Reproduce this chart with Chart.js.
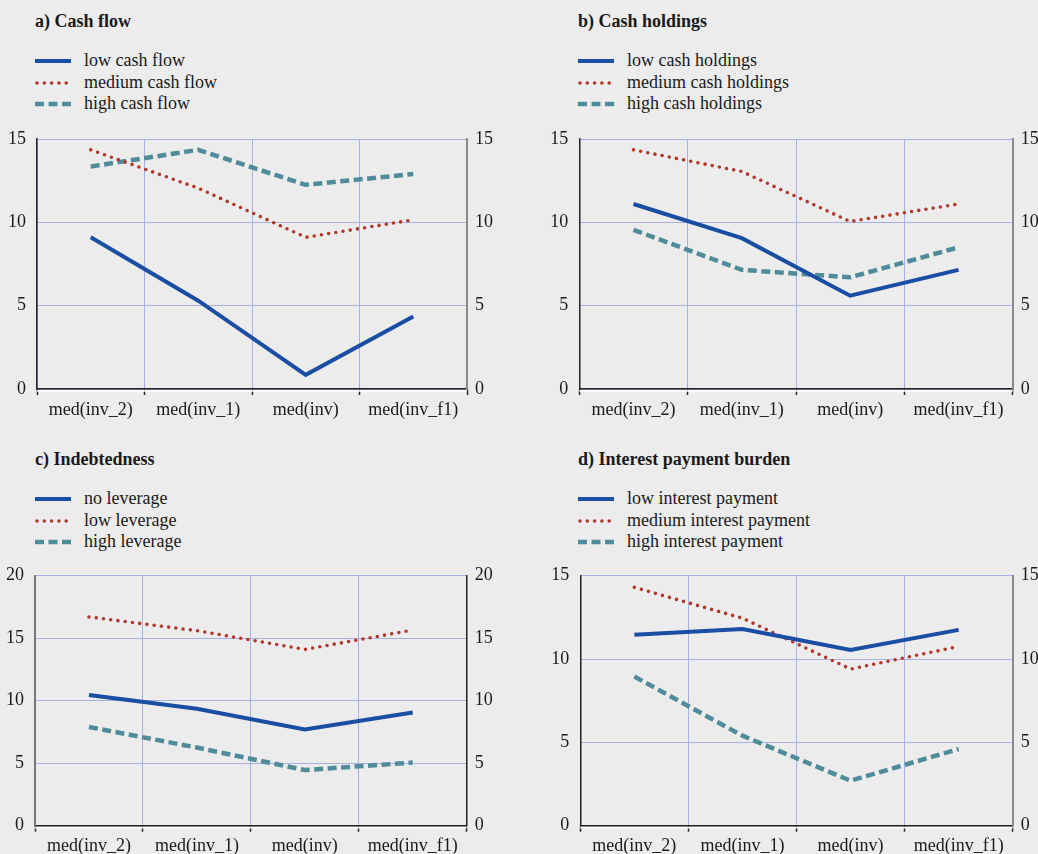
<!DOCTYPE html>
<html>
<head>
<meta charset="utf-8">
<script src="https://cdn.jsdelivr.net/npm/chart.js@4.4.1/dist/chart.umd.min.js"></script>
<style>
  html, body { margin:0; padding:0; background:#ececec; }
  body { width:1038px; height:854px; position:relative; overflow:hidden; font-family:"Liberation Serif","Times New Roman",serif; color:#1a1a1a; }
  .title { position:absolute; font-weight:bold; font-size:18px; line-height:20px; white-space:nowrap; }
  .leg { position:absolute; font-size:18px; line-height:21.5px; white-space:nowrap; }
  .leg div { position:relative; height:21.5px; padding-left:49px; }
  .leg svg { position:absolute; left:0; top:6px; }
  canvas { position:absolute; }
</style>
</head>
<body>
<div class="title" style="left:35px;top:11px">a) Cash flow</div>
<div class="title" style="left:578px;top:11px">b) Cash holdings</div>
<div class="title" style="left:35px;top:449px">c) Indebtedness</div>
<div class="title" style="left:578px;top:449px">d) Interest payment burden</div>

<div class="leg" id="legA" style="left:35px;top:50px"></div>
<div class="leg" id="legB" style="left:578px;top:50px"></div>
<div class="leg" id="legC" style="left:35px;top:488px"></div>
<div class="leg" id="legD" style="left:578px;top:488px"></div>

<canvas id="cA" width="519" height="305" style="left:0;top:125px"></canvas>
<canvas id="cB" width="519" height="305" style="left:519px;top:125px"></canvas>
<canvas id="cC" width="519" height="292" style="left:0;top:562px"></canvas>
<canvas id="cD" width="519" height="292" style="left:519px;top:562px"></canvas>

<script>
// ---- data ----
const categories = ["med(inv_2)", "med(inv_1)", "med(inv)", "med(inv_f1)"];

const cashFlowNames = ["low cash flow", "medium cash flow", "high cash flow"];
const cashFlowLow = [9.1, 5.3, 0.85, 4.35];
const cashFlowMed = [14.35, 12.05, 9.1, 10.15];
const cashFlowHigh = [13.35, 14.35, 12.25, 12.9];

const holdingsNames = ["low cash holdings", "medium cash holdings", "high cash holdings"];
const holdingsLow = [11.1, 9.05, 5.6, 7.15];
const holdingsMed = [14.35, 13.05, 10.05, 11.1];
const holdingsHigh = [9.55, 7.15, 6.7, 8.5];

const leverageNames = ["no leverage", "low leverage", "high leverage"];
const leverageNo = [10.45, 9.35, 7.7, 9.05];
const leverageLow = [16.7, 15.6, 14.1, 15.65];
const leverageHigh = [7.9, 6.25, 4.45, 5.05];

const interestNames = ["low interest payment", "medium interest payment", "high interest payment"];
const interestLow = [11.45, 11.8, 10.55, 11.75];
const interestMed = [14.3, 12.45, 9.4, 10.75];
const interestHigh = [8.95, 5.4, 2.7, 4.6];

const ticks15 = [0, 5, 10, 15];
const ticks20 = [0, 5, 10, 15, 20];

// ---- styles ----
const COL_BLUE = "#1a4ea3";
const COL_RED = "#b0372b";
const COL_TEAL = "#4f8b99";
const GRID = "#a6afe6";
const styles = [
  { color: COL_BLUE, width: 4, dash: [], cap: "butt" },
  { color: COL_RED, width: 3.6, dash: [0, 7.3], cap: "round" },
  { color: COL_TEAL, width: 4.5, dash: [9, 4.5], cap: "butt" }
];

function buildLegend(id, names) {
  const el = document.getElementById(id);
  names.forEach((n, i) => {
    const s = styles[i];
    const d = document.createElement("div");
    const dash = s.dash.length ? `stroke-dasharray="${s.dash.join(' ')}"` : "";
    d.innerHTML = `<svg width="36" height="10"><line x1="${s.cap==='round'?2:0}" y1="5" x2="36" y2="5" stroke="${s.color}" stroke-width="${s.width}" stroke-linecap="${s.cap}" ${dash}/></svg>${n}`;
    el.appendChild(d);
  });
}
buildLegend("legA", cashFlowNames);
buildLegend("legB", holdingsNames);
buildLegend("legC", leverageNames);
buildLegend("legD", interestNames);

const whiteAxis = {
  id: "whiteAxis",
  afterDraw(chart) {
    const { ctx, chartArea } = chart;
    ctx.save();
    ctx.strokeStyle = "#ffffff";
    ctx.lineWidth = 1.5;
    ctx.beginPath();
    ctx.moveTo(chartArea.left, chartArea.bottom + 2);
    ctx.lineTo(chartArea.right, chartArea.bottom + 2);
    ctx.stroke();
    ctx.restore();
  }
};

function makeChart(id, seriesList, yTicks, lay) {
  const font = { family: "Liberation Serif", size: 18 };
  const yMax = yTicks[yTicks.length - 1];
  new Chart(document.getElementById(id), {
    type: "line",
    data: {
      labels: categories,
      datasets: seriesList.map((d, i) => ({
        data: d,
        borderColor: styles[i].color,
        borderWidth: styles[i].width,
        borderDash: styles[i].dash,
        borderCapStyle: styles[i].cap,
        borderJoinStyle: "miter",
        pointRadius: 0,
        tension: 0,
        fill: false
      }))
    },
    options: {
      responsive: false,
      animation: false,
      devicePixelRatio: 1,
      layout: { padding: { top: lay.top, left: 0, right: 0, bottom: 0 } },
      plugins: { legend: { display: false }, tooltip: { enabled: false } },
      scales: {
        x: {
          type: "category",
          offset: true,
          grid: { offset: true, color: GRID, lineWidth: 1, drawTicks: true, tickLength: 6, tickColor: "#222", tickWidth: 1.5 },
          border: { color: "#222", width: 1.5 },
          ticks: { color: "#1a1a1a", font, padding: 4, maxRotation: 0, autoSkip: false },
          afterFit(s) { s.height = lay.xh; s.paddingLeft = 0; s.paddingRight = 0; }
        },
        y: {
          position: "left",
          min: 0, max: yMax,
          afterBuildTicks(s) { s.ticks = yTicks.map(v => ({ value: v })); },
          grid: { color: GRID, lineWidth: 1, drawTicks: false },
          border: { color: lay.lc, width: lay.lw },
          ticks: { color: "#1a1a1a", font, padding: 11 },
          afterFit(s) { s.width = lay.lwid; s.paddingTop = 0; s.paddingBottom = 0; }
        },
        y2: {
          position: "right",
          min: 0, max: yMax,
          afterBuildTicks(s) { s.ticks = yTicks.map(v => ({ value: v })); },
          grid: { display: false, drawTicks: false },
          border: { color: lay.rc, width: lay.rw },
          ticks: { color: "#1a1a1a", font, padding: 8 },
          afterFit(s) { s.width = lay.rwid; s.paddingTop = 0; s.paddingBottom = 0; }
        }
      }
    },
    plugins: [whiteAxis]
  });
}

makeChart("cA", [cashFlowLow, cashFlowMed, cashFlowHigh], ticks15,
  { top: 14, xh: 41, lwid: 37, rwid: 52, lc: "#222", lw: 1.5, rc: "#8a8a8a", rw: 2 });
makeChart("cB", [holdingsLow, holdingsMed, holdingsHigh], ticks15,
  { top: 14, xh: 41, lwid: 60.3, rwid: 25.3, lc: "#222", lw: 1.5, rc: "#8a8a8a", rw: 2 });
makeChart("cC", [leverageNo, leverageLow, leverageHigh], ticks20,
  { top: 13.7, xh: 28.3, lwid: 35, rwid: 52.3, lc: "#777", lw: 2, rc: "#222", rw: 1.5 });
makeChart("cD", [interestLow, interestMed, interestHigh], ticks15,
  { top: 13.7, xh: 28.3, lwid: 61.3, rwid: 25.3, lc: "#222", lw: 1.5, rc: "#8a8a8a", rw: 2 });
</script>
</body>
</html>
